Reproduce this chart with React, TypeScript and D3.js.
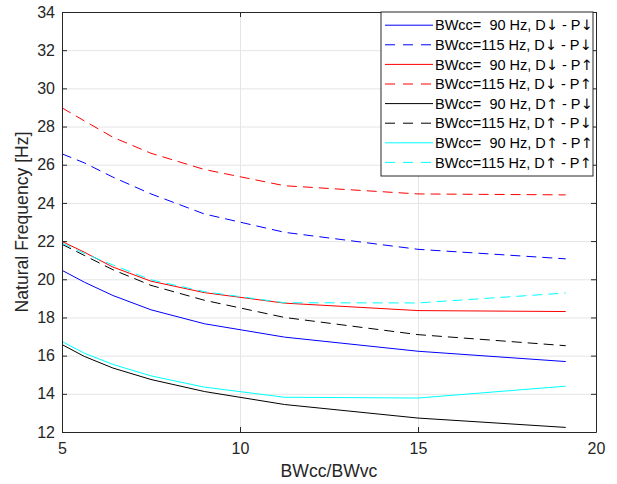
import React, { useEffect, useRef } from 'react'
import * as d3 from 'd3'

const ratios = [5, 5.625, 6.43, 7.5, 9, 11.25, 15, 19.15]

const blue90 = [20.47, 19.85, 19.15, 18.4, 17.67, 16.97, 16.23, 15.69]
const blue115 = [26.57, 26.1, 25.35, 24.47, 23.42, 22.46, 21.57, 21.07]
const red90 = [21.98, 21.42, 20.64, 19.9, 19.3, 18.75, 18.36, 18.31]
const red115 = [28.98, 28.3, 27.44, 26.6, 25.75, 24.9, 24.47, 24.42]
const black90 = [16.58, 15.96, 15.35, 14.75, 14.12, 13.44, 12.73, 12.24]
const black115 = [21.83, 21.25, 20.5, 19.68, 18.9, 18.0, 17.1, 16.52]
const cyan90 = [16.74, 16.13, 15.54, 14.94, 14.35, 13.82, 13.78, 14.4]
const cyan115 = [21.9, 21.35, 20.75, 19.97, 19.35, 18.77, 18.76, 19.28]

const xTicks = [5, 10, 15, 20]
const yTicks = [12, 14, 16, 18, 20, 22, 24, 26, 28, 30, 32, 34]

// legend label parts: [before first arrow, arrow, middle, arrow]
const series = [
  { label: ['BWcc=  90 Hz, D', '\u2193', ' - P', '\u2193'], values: blue90, color: '#0000ff', dashed: false },
  { label: ['BWcc=115 Hz, D', '\u2193', ' - P', '\u2193'], values: blue115, color: '#0000ff', dashed: true },
  { label: ['BWcc=  90 Hz, D', '\u2193', ' - P', '\u2191'], values: red90, color: '#ff0000', dashed: false },
  { label: ['BWcc=115 Hz, D', '\u2193', ' - P', '\u2191'], values: red115, color: '#ff0000', dashed: true },
  { label: ['BWcc=  90 Hz, D', '\u2191', ' - P', '\u2193'], values: black90, color: '#000000', dashed: false },
  { label: ['BWcc=115 Hz, D', '\u2191', ' - P', '\u2193'], values: black115, color: '#000000', dashed: true },
  { label: ['BWcc=  90 Hz, D', '\u2191', ' - P', '\u2191'], values: cyan90, color: '#00ffff', dashed: false },
  { label: ['BWcc=115 Hz, D', '\u2191', ' - P', '\u2191'], values: cyan115, color: '#00ffff', dashed: true },
]

const margin = { top: 12, right: 21, bottom: 52, left: 62 }
const width = 617
const height = 484
const font = 'Liberation Sans, Arial, Helvetica, sans-serif'
const arrowFont = 'DejaVu Sans'
const axisColor = '#262626'

export default function App() {
  const xAxisRef = useRef<SVGGElement>(null)
  const yAxisRef = useRef<SVGGElement>(null)
  const topRef = useRef<SVGGElement>(null)
  const rightRef = useRef<SVGGElement>(null)
  const xGridRef = useRef<SVGGElement>(null)
  const yGridRef = useRef<SVGGElement>(null)

  const chartWidth = width - margin.left - margin.right
  const chartHeight = height - margin.top - margin.bottom

  const x = d3.scaleLinear().domain([5, 20]).range([0, chartWidth])
  const y = d3.scaleLinear().domain([12, 34]).range([chartHeight, 0])

  const line = d3.line<number>()
    .x((d, i) => x(ratios[i]))
    .y(d => y(d))

  useEffect(() => {
    const style = (g: d3.Selection<SVGGElement, unknown, null, undefined>) => {
      g.select('.domain').attr('stroke', axisColor)
      g.selectAll('.tick line').attr('stroke', axisColor)
      g.selectAll('.tick text')
        .attr('fill', axisColor)
        .style('font-family', font)
        .style('font-size', '16px')
    }

    d3.select(xGridRef.current!)
      .call(d3.axisBottom(x).tickValues(xTicks).tickSize(-chartHeight).tickFormat(() => ''))
      .call(g => g.select('.domain').remove())
      .call(g => g.selectAll('.tick line').attr('stroke', '#e5e5e5'))
    d3.select(yGridRef.current!)
      .call(d3.axisLeft(y).tickValues(yTicks).tickSize(-chartWidth).tickFormat(() => ''))
      .call(g => g.select('.domain').remove())
      .call(g => g.selectAll('.tick line').attr('stroke', '#e5e5e5'))

    d3.select(xAxisRef.current!)
      .call(d3.axisBottom(x).tickValues(xTicks).tickSizeInner(-5).tickSizeOuter(0).tickPadding(11))
      .call(style)
    d3.select(yAxisRef.current!)
      .call(d3.axisLeft(y).tickValues(yTicks).tickSizeInner(-5).tickSizeOuter(0).tickPadding(7))
      .call(style)
    d3.select(topRef.current!)
      .call(d3.axisTop(x).tickValues(xTicks).tickSizeInner(-5).tickSizeOuter(0).tickFormat(() => ''))
      .call(style)
    d3.select(rightRef.current!)
      .call(d3.axisRight(y).tickValues(yTicks).tickSizeInner(-5).tickSizeOuter(0).tickFormat(() => ''))
      .call(style)
  }, [])

  const legendX = 381 - margin.left
  const legendY = 12 - margin.top
  const legendW = 212
  const legendH = 164
  const rowH = 19.6

  return (
    <svg width={width} height={height} style={{ position: 'absolute', left: 0, top: 0, background: '#fff' }}>
      <rect width={width} height={height} fill="#fff" />
      <g transform={`translate(${margin.left}, ${margin.top})`}>
        <g ref={xGridRef} transform={`translate(0, ${chartHeight})`} />
        <g ref={yGridRef} />
        {series.map(s => (
          <path key={s.label.join('')} d={line(s.values) || ''} fill="none" stroke={s.color}
            strokeWidth={1} strokeDasharray={s.dashed ? '10,6' : undefined} />
        ))}
        <g ref={xAxisRef} transform={`translate(0, ${chartHeight})`} />
        <g ref={yAxisRef} />
        <g ref={topRef} />
        <g ref={rightRef} transform={`translate(${chartWidth}, 0)`} />

        <g transform={`translate(${legendX}, ${legendY})`}>
          <rect width={legendW} height={legendH} fill="#fff" stroke={axisColor} strokeWidth={1} />
          {series.map((s, i) => (
            <g key={s.label.join('')} transform={`translate(0, ${13.2 + i * rowH})`}>
              <line x1={4} x2={52} y1={0} y2={0} stroke={s.color} strokeWidth={1}
                strokeDasharray={s.dashed ? '10,8' : undefined} />
              <text x={54} y={0} dy="0.36em" fill="#000" style={{ fontFamily: font, fontSize: '14.5px', whiteSpace: 'pre' }}>
                {s.label[0]}
                <tspan style={{ fontFamily: arrowFont }}>{s.label[1]}</tspan>
                {s.label[2]}
                <tspan style={{ fontFamily: arrowFont }}>{s.label[3]}</tspan>
              </text>
            </g>
          ))}
        </g>
      </g>
      <text x={margin.left + chartWidth / 2} y={477} textAnchor="middle" fill={axisColor}
        style={{ fontFamily: font, fontSize: '17.6px' }}>BWcc/BWvc</text>
      <text transform={`translate(28, ${margin.top + chartHeight / 2}) rotate(-90)`} textAnchor="middle"
        fill={axisColor} style={{ fontFamily: font, fontSize: '17.6px' }}>Natural Frequency [Hz]</text>
    </svg>
  )
}
